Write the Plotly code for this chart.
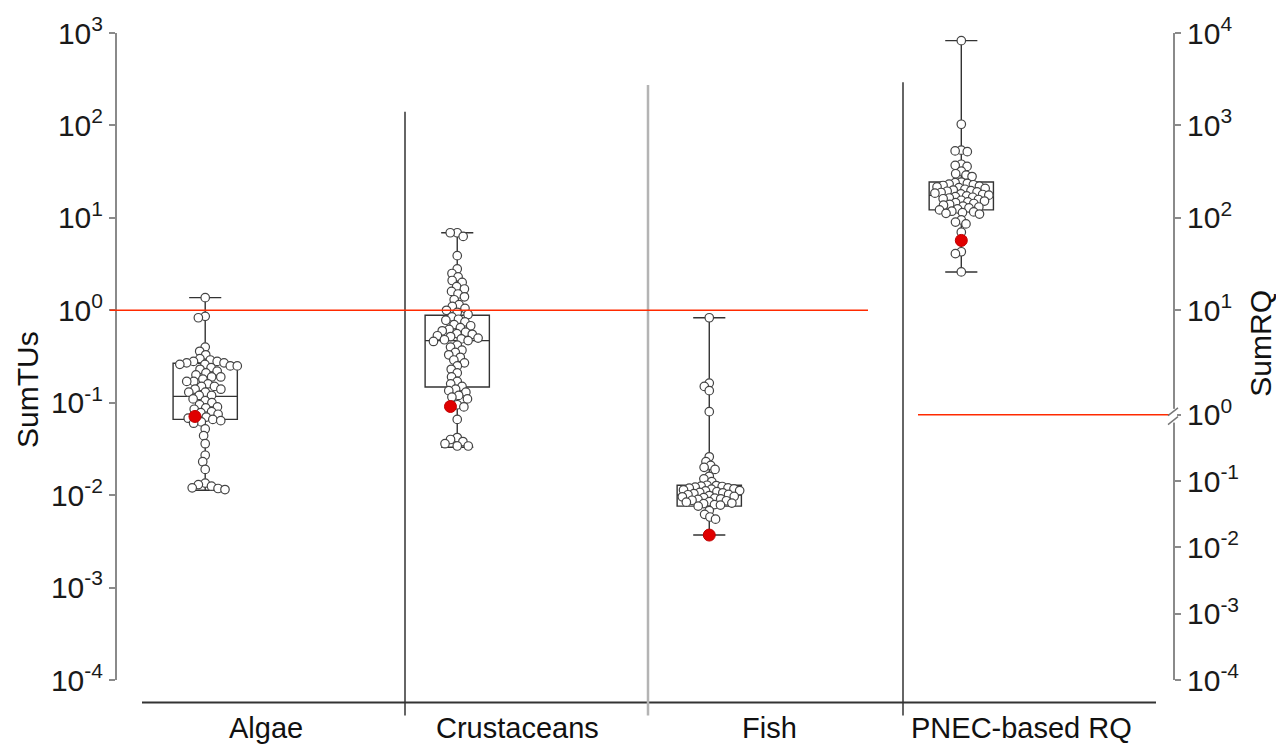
import numpy as np
import plotly.graph_objects as go

# ---------------- data ----------------
categories = ["Algae", "Crustaceans", "Fish", "PNEC-based RQ"]

algae_values = [
    1.37, 0.86, 0.83, 0.40, 0.36, 0.33,
    0.30, 0.29, 0.28, 0.28, 0.27, 0.27, 0.26, 0.26, 0.25, 0.25, 0.24, 0.23,
    0.22, 0.21, 0.20, 0.19, 0.19, 0.18, 0.17, 0.17, 0.16, 0.15, 0.15, 0.14,
    0.14, 0.13, 0.13, 0.12, 0.12,
    0.11, 0.105, 0.10, 0.095, 0.09, 0.088, 0.085, 0.08, 0.078, 0.075, 0.07,
    0.068, 0.066, 0.064, 0.062, 0.06,
    0.052, 0.044, 0.036, 0.027, 0.023, 0.019,
    0.0135, 0.013, 0.0125, 0.012, 0.0118, 0.0115,
]

crustacean_values = [
    6.9, 6.9, 6.3, 3.9, 2.8,
    2.5, 2.3, 2.1, 2.0, 1.8, 1.7, 1.6, 1.5, 1.4, 1.3,
    1.15, 1.1, 1.05, 1.0, 0.95, 0.9,
    0.85, 0.80, 0.78, 0.75, 0.70, 0.68, 0.65, 0.62, 0.60, 0.58, 0.56, 0.55,
    0.53, 0.52, 0.50, 0.49, 0.48, 0.47, 0.46,
    0.42, 0.40, 0.37, 0.35, 0.33, 0.31, 0.29, 0.27, 0.25, 0.23, 0.21, 0.19,
    0.17, 0.16, 0.15,
    0.14, 0.135, 0.13, 0.12, 0.115, 0.11, 0.095, 0.09,
    0.066,
    0.042, 0.040, 0.038, 0.036, 0.034, 0.034,
]

fish_values = [
    0.83, 0.163, 0.15, 0.135, 0.080, 0.026,
    0.023, 0.021, 0.020, 0.019, 0.016, 0.015, 0.014,
    0.0128, 0.0127, 0.0125, 0.0124, 0.0122, 0.0120, 0.0119, 0.0117, 0.0116,
    0.0114, 0.0112, 0.0111, 0.0109, 0.0107, 0.0106, 0.0104, 0.0102, 0.0101,
    0.0099, 0.0097, 0.0096, 0.0094, 0.0093, 0.0091, 0.0090, 0.0088, 0.0087,
    0.0085, 0.0084, 0.0082, 0.0081, 0.0079, 0.0078, 0.0076,
    0.0068, 0.0062, 0.0058, 0.0055,
]

pnec_values = [
    8260, 1030, 540, 530, 520, 380, 370, 360, 320, 300, 290, 280,
    244, 240, 236, 232, 228, 224, 220, 216, 212, 208, 204, 200, 197, 194,
    191, 188, 185, 182, 179, 176, 173, 170, 167, 164, 161, 158, 155, 152,
    149, 146, 143, 140, 137, 134, 131, 128, 125, 122,
    118, 116, 114, 112, 110, 95, 90, 86, 70, 43, 41, 26,
]

# highlighted (red) value per category
highlight_values = [0.071, 0.091, 0.0037, 57]

# box statistics per category
box_q1 = [0.066, 0.148, 0.0076, 122]
box_median = [0.117, 0.47, 0.0100, 175]
box_q3 = [0.267, 0.885, 0.0128, 244]
box_lower = [0.0113, 0.033, 0.0037, 26]
box_upper = [1.37, 6.9, 0.83, 8260]

left_tick_exponents = [3, 2, 1, 0, -1, -2, -3, -4]
right_tick_exponents = [4, 3, 2, 1, 0, -1, -2, -3, -4]
threshold = 1.0

series = [algae_values, crustacean_values, fish_values, pnec_values]
axis_of = ["y", "y", "y", "y2"]
swarm_spacing = [7.0, 7.0, 6.0, 6.2]

# ---------------- layout constants ----------------
W, H = 1276, 748
ML, MR, MT, MB = 117, 103, 22, 68
PW, PH = W - ML - MR, H - MT - MB
Y_RANGE = [-4, 3]
Y2_RANGE = [-3, 4]
X_RANGE = [-0.35, 3.84]
PX_PER_DEC = PH / (Y_RANGE[1] - Y_RANGE[0])
PX_PER_X = PW / (X_RANGE[1] - X_RANGE[0])

# broken right axis: upper part true log, lower part compressed
BREAK_LOG = -0.13
LOWER_DEC = (BREAK_LOG - Y2_RANGE[0]) / 4.0


def right_tick_pos(e):
    if e >= 1:
        return 10.0 ** e
    return 10.0 ** (BREAK_LOG + e * LOWER_DEC)


def px_x(px):
    return (px - ML) / PW


def px_y(py):
    return (H - MB - py) / PH


def beeswarm(values, diameter):
    y = np.log10(np.asarray(values, float)) * PX_PER_DEC
    order = np.argsort(-y, kind="stable")
    xs = np.zeros(len(y))
    placed = []
    for i in order:
        near = [(xs[j], y[j]) for j in placed if abs(y[j] - y[i]) < diameter]
        cands = [0.0]
        for xj, yj in near:
            dx = np.sqrt(diameter ** 2 - (y[i] - yj) ** 2)
            cands += [xj + dx, xj - dx]
        cands.sort(key=lambda c: (abs(c), c))
        for c in cands:
            if all((c - xj) ** 2 + (y[i] - yj) ** 2 >= diameter ** 2 - 1e-6 for xj, yj in near):
                xs[i] = c
                break
        placed.append(i)
    return xs / PX_PER_X


fig = go.Figure()

for i, vals in enumerate(series):
    fig.add_trace(go.Box(
        x=[i], q1=[box_q1[i]], median=[box_median[i]], q3=[box_q3[i]],
        lowerfence=[box_lower[i]], upperfence=[box_upper[i]],
        width=0.255, whiskerwidth=0.5, boxpoints=False,
        fillcolor="rgba(0,0,0,0)", line=dict(color="#333333", width=1.4),
        yaxis=axis_of[i], showlegend=False, hoverinfo="skip",
    ))

for i, vals in enumerate(series):
    allv = list(vals) + [highlight_values[i]]
    offs = beeswarm(allv, swarm_spacing[i])
    fig.add_trace(go.Scatter(
        x=i + offs[:-1], y=vals, mode="markers", yaxis=axis_of[i],
        marker=dict(size=8.5, color="white", line=dict(color="#444444", width=1.2)),
        showlegend=False, hoverinfo="skip",
    ))
    fig.add_trace(go.Scatter(
        x=[i + offs[-1]], y=[highlight_values[i]], mode="markers", yaxis=axis_of[i],
        marker=dict(size=12, color="#e00000", line=dict(color="#c00000", width=1)),
        showlegend=False, hoverinfo="skip",
    ))

shapes = [
    # baseline
    dict(type="line", xref="paper", yref="paper", x0=px_x(142), x1=px_x(1156),
         y0=px_y(703), y1=px_y(703), line=dict(color="#333333", width=2)),
    # dividers
    dict(type="line", xref="paper", yref="paper", x0=px_x(405), x1=px_x(405),
         y0=px_y(716), y1=px_y(102), line=dict(color="#333333", width=1.5)),
    dict(type="line", xref="paper", yref="paper", x0=px_x(648), x1=px_x(648),
         y0=px_y(716), y1=px_y(75), line=dict(color="#b4b4b4", width=2.5)),
    dict(type="line", xref="paper", yref="paper", x0=px_x(903), x1=px_x(903),
         y0=px_y(716), y1=px_y(72), line=dict(color="#333333", width=1.5)),
    # threshold lines
    dict(type="line", xref="paper", yref="y", x0=px_x(110), x1=px_x(868),
         y0=threshold, y1=threshold, line=dict(color="#ff2a00", width=1.5)),
    dict(type="line", xref="paper", yref="y2", x0=px_x(918), x1=px_x(1170),
         y0=right_tick_pos(0), y1=right_tick_pos(0), line=dict(color="#ff2a00", width=1.5)),
]
# axis break marks
brk_py = H - MB - (np.log10(right_tick_pos(0)) - Y2_RANGE[0]) * PX_PER_DEC
shapes += [
    dict(type="rect", xref="paper", yref="paper", x0=px_x(1169), x1=px_x(1177),
         y0=px_y(brk_py + 8), y1=px_y(brk_py - 6), fillcolor="white",
         line=dict(width=0), layer="above"),
    dict(type="line", xref="paper", yref="paper", x0=px_x(1168), x1=px_x(1178),
         y0=px_y(brk_py + 1), y1=px_y(brk_py - 7), line=dict(color="#777777", width=1.5)),
    dict(type="line", xref="paper", yref="paper", x0=px_x(1168), x1=px_x(1178),
         y0=px_y(brk_py + 10), y1=px_y(brk_py + 2), line=dict(color="#777777", width=1.5)),
]

annotations = []
for i, c in enumerate(categories):
    annotations.append(dict(x=i + 0.24, xref="x", y=px_y(729), yref="paper", text=c,
                            showarrow=False, font=dict(size=29, color="#111111"),
                            xanchor="center", yanchor="middle"))
annotations.append(dict(x=px_x(28), y=px_y(385), xref="paper", yref="paper", text="SumTUs",
                        textangle=-90, showarrow=False, xanchor="center", yanchor="middle",
                        font=dict(size=30, color="#111111")))
annotations.append(dict(x=px_x(1261), y=px_y(338), xref="paper", yref="paper", text="SumRQ",
                        textangle=-90, showarrow=False, xanchor="center", yanchor="middle",
                        font=dict(size=30, color="#111111")))

axis_common = dict(type="log", showgrid=False, zeroline=False, showline=True,
                   linecolor="#8a8a8a", linewidth=2, ticks="outside", ticklen=6,
                   tickwidth=2, tickcolor="#8a8a8a",
                   tickfont=dict(size=30, color="#1a1a1a"))

fig.update_layout(
    width=W, height=H,
    margin=dict(l=ML, r=MR, t=MT, b=MB, pad=0),
    paper_bgcolor="white", plot_bgcolor="white",
    font=dict(family="Liberation Sans, Arial, sans-serif"),
    showlegend=False,
    boxmode="overlay",
    xaxis=dict(range=X_RANGE, visible=False),
    yaxis=dict(range=Y_RANGE, tickvals=[10.0 ** e for e in left_tick_exponents],
               ticktext=["10<sup>%d</sup>" % e for e in left_tick_exponents],
               **axis_common),
    yaxis2=dict(range=Y2_RANGE, overlaying="y", side="right",
                tickvals=[right_tick_pos(e) for e in right_tick_exponents],
                ticktext=["10<sup>%d</sup>" % e for e in right_tick_exponents],
                **axis_common),
    shapes=shapes,
    annotations=annotations,
)

fig.write_html("out.html")
